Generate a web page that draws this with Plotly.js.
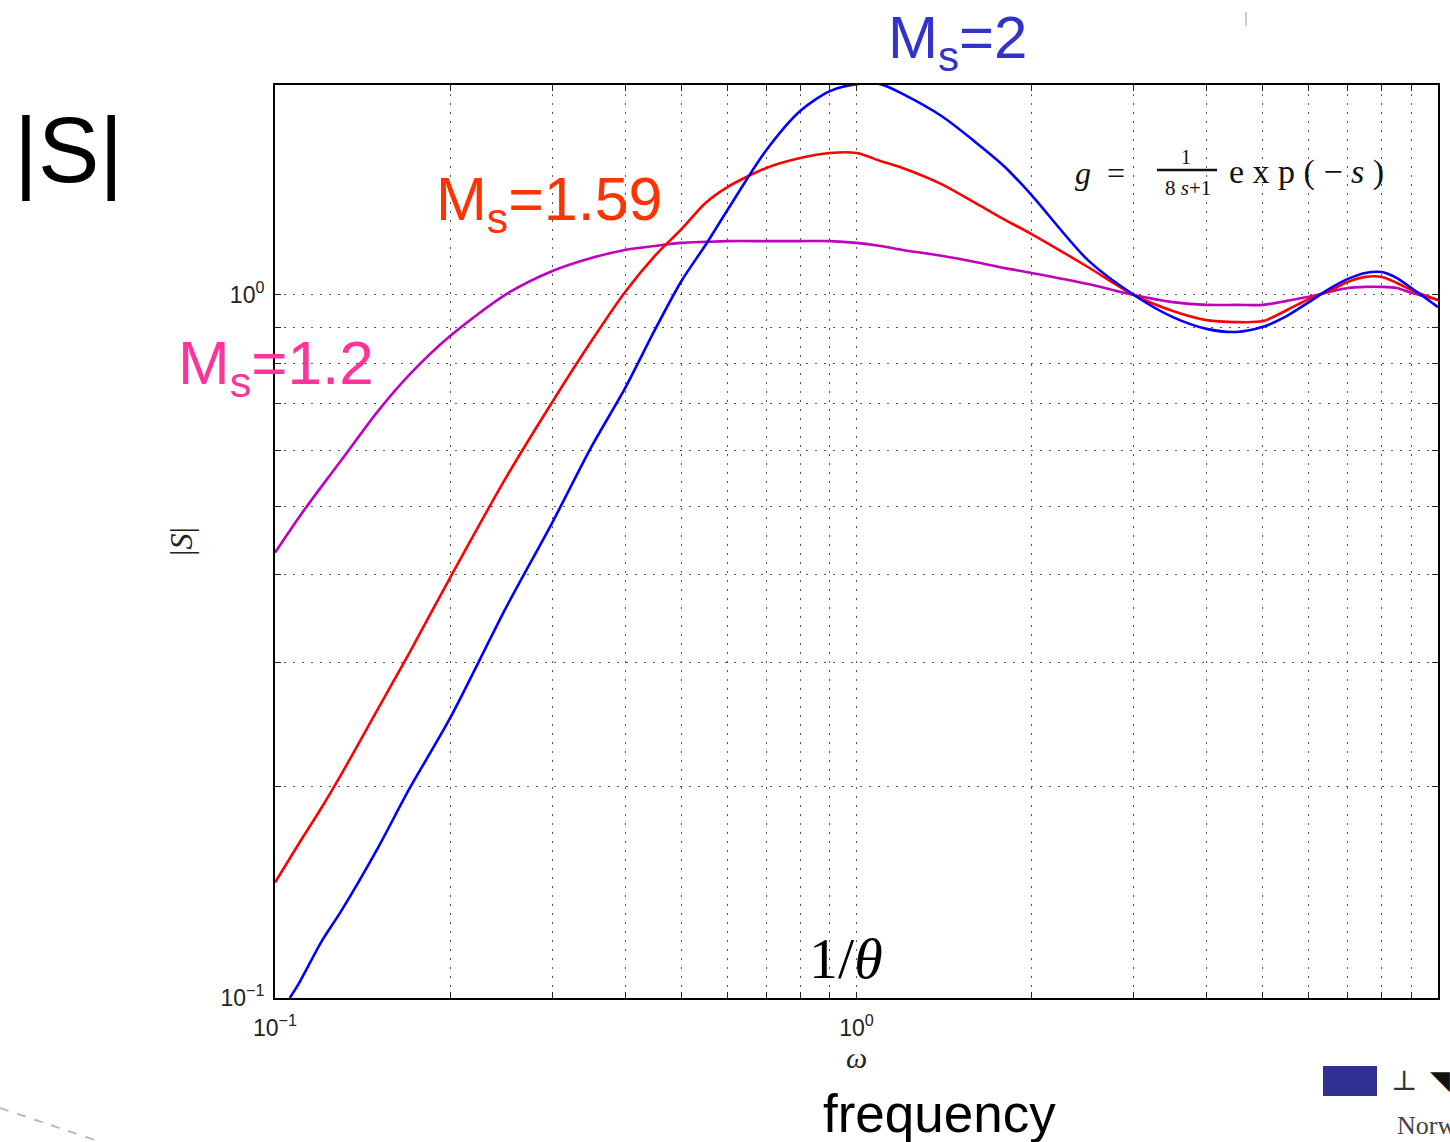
<!DOCTYPE html>
<html>
<head>
<meta charset="utf-8">
<script src="https://cdn.plot.ly/plotly-3.0.1.min.js"></script>
<style>html,body{margin:0;padding:0;background:#fff;}#chart{width:1450px;height:1142px;}</style>
</head>
<body>
<div id="chart"></div>
<script>
// Frequency grid (rad/s) and |S| values
const freq = [0.1, 0.11, 0.12, 0.13, 0.15, 0.17, 0.2, 0.25, 0.3, 0.35, 0.4, 0.45, 0.5, 0.55, 0.6, 0.7, 0.8, 0.9, 1.0, 1.1, 1.2, 1.4, 1.6, 1.8, 2, 2.5, 3, 3.5, 4, 4.5, 5, 5.5, 6, 6.5, 7, 7.5, 8, 8.5, 9, 10];
const freqBlue = [0.106, 0.11, 0.12, 0.13, 0.15, 0.17, 0.2, 0.25, 0.3, 0.35, 0.4, 0.45, 0.5, 0.55, 0.6, 0.7, 0.8, 0.9, 1.0, 1.1, 1.2, 1.4, 1.6, 1.8, 2, 2.5, 3, 3.5, 4, 4.5, 5, 5.5, 6, 6.5, 7, 7.5, 8, 8.5, 9, 10];
const S_Ms2 = [0.100, 0.105, 0.120, 0.133, 0.163, 0.198, 0.250, 0.360, 0.475, 0.608, 0.737, 0.892, 1.047, 1.178, 1.321, 1.608, 1.827, 1.950, 1.995, 1.995, 1.932, 1.797, 1.651, 1.521, 1.387, 1.121, 1.000, 0.930, 0.895, 0.886, 0.901, 0.934, 0.977, 1.020, 1.054, 1.075, 1.078, 1.057, 1.023, 0.961];
const S_Ms159 = [0.146, 0.166, 0.186, 0.208, 0.257, 0.309, 0.396, 0.551, 0.705, 0.860, 1.010, 1.137, 1.241, 1.352, 1.424, 1.516, 1.566, 1.592, 1.592, 1.551, 1.516, 1.438, 1.352, 1.279, 1.221, 1.096, 1.000, 0.949, 0.921, 0.915, 0.918, 0.952, 0.987, 1.013, 1.044, 1.061, 1.061, 1.040, 1.016, 0.984];
const S_Ms12 = [0.430, 0.483, 0.533, 0.582, 0.682, 0.769, 0.874, 1.003, 1.082, 1.129, 1.159, 1.174, 1.186, 1.190, 1.193, 1.193, 1.193, 1.193, 1.186, 1.174, 1.159, 1.137, 1.114, 1.092, 1.075, 1.037, 1.000, 0.977, 0.968, 0.968, 0.968, 0.981, 0.994, 1.010, 1.023, 1.027, 1.027, 1.023, 1.007, 0.984];

const xTickVals = [0.1,0.2,0.3,0.4,0.5,0.6,0.7,0.8,0.9,1,2,3,4,5,6,7,8,9,10];
const xTickText = ['10<sup>−1</sup>','','','','','','','','','10<sup>0</sup>','','','','','','','','','10<sup>1</sup>'];
const yTickVals = [0.1,0.2,0.3,0.4,0.5,0.6,0.7,0.8,0.9,1];
const yTickText = ['10<sup>−1</sup>','','','','','','','','','10<sup>0</sup>'];

// plot-area pixel helpers for decorative annotations
const L = 275, R = 1438, T = 85, B = 998;
const px = v => (v - L) / (R - L);
const py = v => (B - v) / (B - T);

const lineStyle = (c) => ({color: c, width: 2.6, shape: 'spline', smoothing: 0.8});
const traces = [
  {x: freq, y: S_Ms12, mode: 'lines', line: lineStyle('#bf00bf'), name: 'Ms=1.2'},
  {x: freq, y: S_Ms159, mode: 'lines', line: lineStyle('#ff0000'), name: 'Ms=1.59'},
  {x: freqBlue, y: S_Ms2, mode: 'lines', line: lineStyle('#0000ff'), name: 'Ms=2'}
];

const axisCommon = {
  type: 'log', showline: true, linecolor: '#000', linewidth: 2, mirror: 'ticks',
  ticks: 'inside', ticklen: 6, tickcolor: '#222', tickwidth: 1,
  showgrid: true, gridcolor: '#555', griddash: '2px,7px', gridwidth: 1,
  zeroline: false, tickfont: {family: 'Liberation Sans, Arial', size: 23, color: '#222'}
};

const serif = 'Liberation Serif, DejaVu Serif, serif';
const sans = 'Liberation Sans, Arial, sans-serif';

const annotations = [
  {x: px(68), y: py(150), text: '|S|', font: {family: sans, size: 92, color: '#000'}},
  {x: px(957), y: py(42), text: 'M<sub>s</sub>=2', font: {family: sans, size: 60, color: '#3333cc'}},
  {x: px(549), y: py(203), text: 'M<sub>s</sub>=1.59', font: {family: sans, size: 61, color: '#ff3300'}},
  {x: px(276), y: py(367), text: 'M<sub>s</sub>=1.2', font: {family: sans, size: 62, color: '#ff3399'}},
  {x: px(846), y: py(958), text: '1/<i>θ</i>', font: {family: serif, size: 58, color: '#000'}},
  {x: px(939), y: py(1113), text: 'frequency', font: {family: sans, size: 53, color: '#000'}},
  {x: px(1100), y: py(173), text: '<i>g</i>  =', font: {family: serif, size: 32, color: '#111'}},
  {x: px(1186), y: py(157), text: '1', font: {family: serif, size: 20, color: '#111'}},
  {x: px(1188), y: py(188), text: '8 <i>s</i>+1', font: {family: serif, size: 21, color: '#111'}},
  {x: px(1306), y: py(172), text: 'e x p ( − <i>s</i> )', font: {family: serif, size: 34, color: '#111'}},
  {x: px(1404), y: py(1080), text: '⊥', font: {family: serif, size: 28, color: '#333'}},
  {x: px(1440), y: py(1080), text: '◥', font: {family: sans, size: 26, color: '#111'}},
  {x: px(1395), y: py(1125), text: 'Norw', xanchor: 'left', font: {family: serif, size: 26, color: '#444'}}
].map(a => Object.assign({xref: 'paper', yref: 'paper', showarrow: false, xanchor: 'center', yanchor: 'middle'}, a));

const shapes = [
  {type: 'line', xref: 'paper', yref: 'paper', x0: px(1157), x1: px(1217), y0: py(170), y1: py(170), line: {color: '#111', width: 2.5}},
  {type: 'rect', xref: 'paper', yref: 'paper', x0: px(1325), x1: px(1375), y0: py(1094), y1: py(1068), fillcolor: '#2e3192', line: {color: '#2e3192', width: 4}, layer: 'above'},
  {type: 'line', xref: 'paper', yref: 'paper', x0: px(0), x1: px(95), y0: py(1108), y1: py(1140), line: {color: '#bbb', width: 2, dash: 'dash'}},
  {type: 'line', xref: 'paper', yref: 'paper', x0: px(1246), x1: px(1246), y0: py(12), y1: py(26), line: {color: '#ccc', width: 2}}
];

const layout = {
  width: 1450, height: 1142,
  margin: {l: 275, r: 12, t: 85, b: 144},
  paper_bgcolor: '#fff', plot_bgcolor: '#fff',
  showlegend: false,
  xaxis: Object.assign({}, axisCommon, {
    range: [-1, 1], tickvals: xTickVals, ticktext: xTickText, ticklabelstandoff: 8,
    title: {text: '<i>ω</i>', font: {family: serif, size: 30, color: '#222'}, standoff: 4}
  }),
  yaxis: Object.assign({}, axisCommon, {
    range: [-1, 0.2987], tickvals: yTickVals, ticktext: yTickText, ticklabelstandoff: 4,
    title: {text: '|<i>S</i>|', font: {family: serif, size: 32, color: '#222'}, standoff: 18}
  }),
  annotations: annotations,
  shapes: shapes
};

Plotly.newPlot('chart', traces, layout, {displayModeBar: false, staticPlot: true});
</script>
</body>
</html>
